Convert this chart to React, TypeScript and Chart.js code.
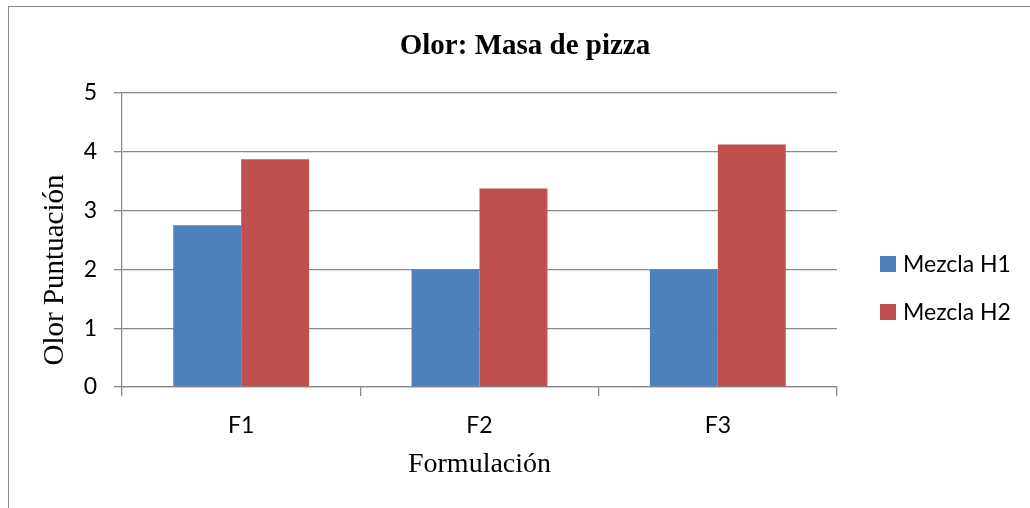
import React, { useEffect, useRef } from "react";
import { Chart, registerables } from "chart.js";

Chart.register(...registerables);

const categories = ["F1", "F2", "F3"];
const seriesNames = ["Mezcla H1", "Mezcla H2"];
const mezclaH1 = [2.75, 2.0, 2.0];
const mezclaH2 = [3.875, 3.375, 4.125];
const yTicks = [0, 1, 2, 3, 4, 5];
const titleText = "Olor: Masa de pizza";
const yTitleText = "Olor Puntuación";
const xTitleText = "Formulación";
const colors = ["#4F81BD", "#C0504D"];

const SANS = "Lato, 'Noto Sans', sans-serif";
const SERIF = "'Liberation Serif', 'Times New Roman', serif";

const textPlugin = {
  id: "textPlugin",
  afterDraw(chart: any) {
    const ctx = chart.ctx;
    const area = chart.chartArea;
    ctx.save();
    ctx.fillStyle = "#000";
    // title
    ctx.font = `bold 29px ${SERIF}`;
    ctx.textAlign = "center";
    ctx.textBaseline = "alphabetic";
    ctx.fillText(titleText, 525, 54);
    // x title
    ctx.font = `28px ${SERIF}`;
    ctx.fillText(xTitleText, (area.left + area.right) / 2, 472);
    // y title
    ctx.save();
    ctx.translate(63, 270);
    ctx.rotate(-Math.PI / 2);
    ctx.font = `29px ${SERIF}`;
    ctx.fillText(yTitleText, 0, 0);
    ctx.restore();
    // legend
    ctx.font = `23px ${SANS}`;
    ctx.textAlign = "left";
    ctx.textBaseline = "middle";
    chart.data.datasets.forEach((ds: any, i: number) => {
      const cy = 264 + i * 48;
      ctx.fillStyle = ds.backgroundColor;
      ctx.fillRect(880, cy - 8, 16, 16);
      ctx.fillStyle = "#000";
      ctx.fillText(ds.label, 903, cy + 1);
    });
    ctx.restore();
  },
};

export default function App() {
  const ref = useRef<HTMLCanvasElement>(null);
  useEffect(() => {
    if (!ref.current) return;
    const chart = new Chart(ref.current, {
      type: "bar",
      data: {
        labels: categories,
        datasets: [
          { label: seriesNames[0], data: mezclaH1, backgroundColor: colors[0], borderWidth: 0 },
          { label: seriesNames[1], data: mezclaH2, backgroundColor: colors[1], borderWidth: 0 },
        ],
      },
      options: {
        responsive: false,
        animation: false,
        devicePixelRatio: 1,
        layout: { padding: { left: 0, top: 93, right: 193, bottom: 0 } },
        plugins: {
          legend: { display: false },
          title: { display: false },
          tooltip: { enabled: false },
        },
        datasets: {
          bar: { categoryPercentage: 0.57, barPercentage: 1.0 },
        },
        scales: {
          x: {
            grid: {
              offset: true,
              drawOnChartArea: false,
              drawTicks: true,
              tickLength: 9,
              color: "#898989",
              lineWidth: 1.3,
            },
            border: { display: true, color: "#898989", width: 1.3 },
            ticks: {
              color: "#000",
              font: { family: SANS, size: 23 },
              padding: 16,
            },
            afterFit(scale: any) {
              scale.height = 121;
            },
          },
          y: {
            min: 0,
            max: 5,
            afterBuildTicks(scale: any) {
              scale.ticks = yTicks.map((v) => ({ value: v }));
            },
            grid: {
              color: "#898989",
              lineWidth: 1.3,
              drawTicks: true,
              tickLength: 8,
            },
            border: { display: true, color: "#898989", width: 1.3 },
            ticks: {
              color: "#000",
              font: { family: SANS, size: 23 },
              padding: 17,
            },
            afterFit(scale: any) {
              scale.width = 122;
            },
          },
        },
      },
      plugins: [textPlugin],
    });
    return () => chart.destroy();
  }, []);
  return (
    <div
      style={{
        position: "fixed",
        left: 0,
        top: 0,
        width: 1030,
        height: 508,
        overflow: "hidden",
        background: "#fff",
      }}
    >
      <div
        style={{
          position: "absolute",
          left: 8,
          top: 6,
          width: 1200,
          height: 700,
          border: "1px solid #898989",
          boxSizing: "border-box",
        }}
      />
      <canvas
        ref={ref}
        width={1030}
        height={508}
        style={{ position: "absolute", left: 0, top: 0, width: 1030, height: 508 }}
      />
    </div>
  );
}
